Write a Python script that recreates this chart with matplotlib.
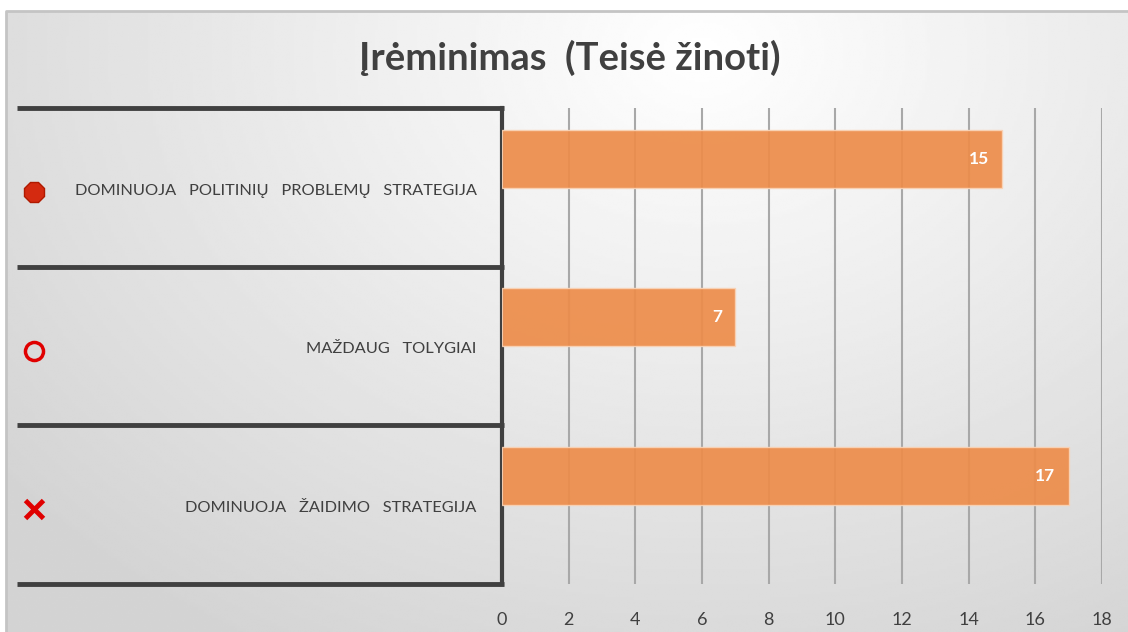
import matplotlib.pyplot as plt
import numpy as np

plt.rcParams['font.family'] = ['Lato', 'DejaVu Sans']

title = 'Įrėminimas  (Teisė žinoti)'
categories = ['DOMINUOJA   POLITINIŲ   PROBLEMŲ   STRATEGIJA',
              'MAŽDAUG   TOLYGIAI',
              'DOMINUOJA   ŽAIDIMO   STRATEGIJA']
values = [15, 7, 17]
markers = ['8', 'o', 'x']
xticks = list(range(0, 20, 2))

text_col = '#404040'
bar_col = '#ED8D4B'

fig = plt.figure(figsize=(11.28, 6.32), dpi=100)

# background panel with soft radial gradient
bg = fig.add_axes([0, 0, 1, 1], zorder=-10)
bg.set_xlim(0, 1128)
bg.set_ylim(632, 0)
bg.axis('off')
gx, gy = np.meshgrid(np.linspace(0, 1128, 400), np.linspace(0, 632, 240))
d = np.sqrt(((gx - 700) / 900) ** 2 + ((gy - 40) / 700) ** 2)
shade = 1.0 - 0.17 * np.clip(d, 0, 1)
bg.imshow(shade, cmap='gray', vmin=0, vmax=1, extent=[6, 1128, 632, 11],
          interpolation='bilinear', aspect='auto')
bg.plot([6, 6, 1128], [632, 11, 11], color='#c4c4c4', lw=2)

ax = fig.add_axes([502 / 1128, 48 / 632, 600 / 1128, 476 / 632])
ax.patch.set_alpha(0)
ax.set_xlim(0, 18)
ax.set_ylim(2.5, -0.5)

ypos = np.arange(len(categories))
bars = ax.barh(ypos - 0.18, values, height=0.365, color=bar_col,
               edgecolor='#F9D3B6', linewidth=1, alpha=0.93, zorder=3)

for b, v in zip(bars, values):
    ax.text(b.get_width() - 0.4, b.get_y() + b.get_height() / 2, str(v),
            ha='right', va='center', color='white', fontsize=12.5,
            fontweight='bold', zorder=4)

ax.set_xticks(xticks)
ax.set_yticks([])
ax.tick_params(axis='x', length=0, pad=20, labelsize=13, labelcolor=text_col)
ax.grid(axis='x', color='#a8a8a8', lw=1.5, zorder=1)

for s in ['top', 'right', 'bottom']:
    ax.spines[s].set_visible(False)
ax.spines['left'].set_color(text_col)
ax.spines['left'].set_linewidth(3)

# left label panel
tr = ax.get_yaxis_transform()
for yb in [-0.5, 0.5, 1.5, 2.5]:
    ax.plot([-0.808, 0.004], [yb, yb], color=text_col, lw=3.5,
            transform=tr, clip_on=False, solid_capstyle='butt')

for i, (lab, mk) in enumerate(zip(categories, markers)):
    ax.text(-0.042, i + 0.02, lab, transform=tr, ha='right', va='center',
            fontsize=11.8, color=text_col)
    if mk == 'o':
        ax.plot(-0.78, i + 0.03, marker='o', ms=13, mfc='none', mec='#E00000',
                mew=2.5, transform=tr, clip_on=False)
    elif mk == 'x':
        ax.plot(-0.78, i + 0.03, marker='x', ms=13, mec='#E00000',
                mew=3.5, transform=tr, clip_on=False)
    else:
        ax.plot(-0.78, i + 0.03, marker='8', ms=15, mfc='#D42A10', mec='#B01A00',
                mew=1, transform=tr, clip_on=False)

fig.text(0.505, 0.908, title, ha='center', va='center', fontsize=27.5,
         fontweight='bold', color=text_col)

fig.savefig('out.png', dpi=100)
